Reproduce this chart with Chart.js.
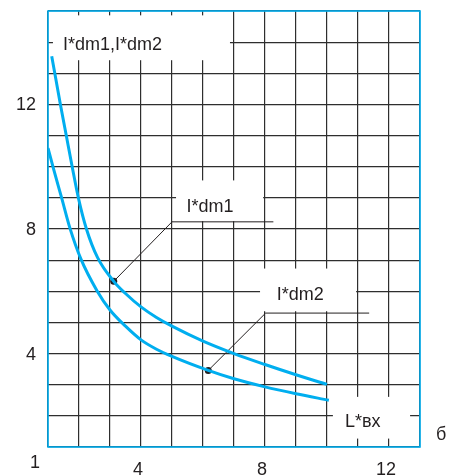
<!DOCTYPE html>
<html>
<head>
<meta charset="utf-8">
<script src="https://cdn.jsdelivr.net/npm/chart.js@4/dist/chart.umd.min.js"></script>
<style>
  html, body { margin: 0; padding: 0; background: #fff; }
  canvas { display: block; }
</style>
</head>
<body>
<canvas id="chart" width="456" height="475"></canvas>
<script>
// I*dm1 curve (upper)
const dm1X = [1.12, 1.40, 1.59, 1.78, 1.98, 2.24, 2.60, 3.12, 3.50, 4.00, 4.50, 5.00, 6.00, 7.00, 8.00, 9.00, 10.00];
const dm1Y = [13.55, 12.0, 11.0, 10.0, 9.0, 8.0, 7.08, 6.32, 5.93, 5.50, 5.16, 4.88, 4.40, 4.00, 3.65, 3.32, 3.01];
// I*dm2 curve (lower)
const dm2X = [1.0, 1.17, 1.44, 1.71, 2.06, 2.58, 3.0, 3.5, 4.0, 4.5, 5.0, 6.17, 7.0, 8.0, 9.0, 10.06];
const dm2Y = [10.6, 9.96, 9.0, 8.02, 7.04, 6.02, 5.40, 4.88, 4.44, 4.14, 3.91, 3.46, 3.19, 2.93, 2.71, 2.5];
// marked points on each curve
const dm1Mark = { x: 3.12, y: 6.32 };
const dm2Mark = { x: 6.17, y: 3.46 };
// axis ranges and labelled ticks
const xRange = [1, 13];
const yRange = [1, 15];
const xTickLabels = [4, 8, 12];
const yTickLabels = [4, 8, 12];
const originLabel = '1';
const yTitle = 'I*dm1,I*dm2';
const xTitle = 'L*вх';
const panelTag = 'б';

const CYAN = '#00aeef';
const INK = '#231f20';
const GRID = '#2e2e2e';
const FONT_FAMILY = '"Liberation Sans", Arial, sans-serif';
const FONT = '18px ' + FONT_FAMILY;

const toPoints = (xs, ys) => xs.map((x, i) => ({ x, y: ys[i] }));

// white label panels cut into the grid (in axis units)
const panels = [
  { x0: 1.16, x1: 6.87, y0: 13.42, y1: 14.86 },
  { x0: 5.13, x1: 7.94, y0: 8.25, y1: 9.56 },
  { x0: 7.84, x1: 10.94, y0: 5.36, y1: 6.73 },
  { x0: 10.19, x1: 12.68, y0: 1.27, y1: 2.61 }
];
// leader lines from marked points to their captions
const leaders = [
  { from: dm1Mark, elbow: { x: 5.0, y: 8.23 }, end: 8.27 },
  { from: dm2Mark, elbow: { x: 8.02, y: 5.30 }, end: 11.36 }
];
// captions: text, anchor (axis units), alignment
const captions = [
  { text: yTitle, x: 1.48, y: 13.74, align: 'left' },
  { text: 'I*dm1', x: 5.47, y: 8.55, align: 'left' },
  { text: 'I*dm2', x: 8.38, y: 5.71, align: 'left' },
  { text: xTitle, x: 10.58, y: 1.64, align: 'left' },
  { text: panelTag, x: 13.68, y: 1.22, align: 'center' },
  { text: originLabel, x: 0.58, y: 0.32, align: 'center' }
];

function toPx(chart, x, y) {
  return [chart.scales.x.getPixelForValue(x), chart.scales.y.getPixelForValue(y)];
}

const overlay = {
  id: 'overlay',
  beforeDatasetsDraw(chart) {
    const ctx = chart.ctx;
    const a = chart.chartArea;
    ctx.save();
    ctx.fillStyle = '#fff';
    for (const p of panels) {
      const [l, t] = toPx(chart, p.x0, p.y1);
      const [r, b] = toPx(chart, p.x1, p.y0);
      ctx.fillRect(l, t, r - l, b - t);
    }
    ctx.strokeStyle = CYAN;
    ctx.lineWidth = 1.6;
    ctx.strokeRect(a.left, a.top, a.right - a.left, a.bottom - a.top);
    ctx.strokeStyle = INK;
    ctx.lineWidth = 1;
    for (const l of leaders) {
      const [x0, y0] = toPx(chart, l.from.x, l.from.y);
      const [x1, y1] = toPx(chart, l.elbow.x, l.elbow.y);
      const [x2] = toPx(chart, l.end, l.elbow.y);
      ctx.beginPath();
      ctx.moveTo(x0, y0);
      ctx.lineTo(x1, y1);
      ctx.lineTo(x2, y1);
      ctx.stroke();
    }
    ctx.restore();
  },
  afterDatasetsDraw(chart) {
    const ctx = chart.ctx;
    ctx.save();
    ctx.font = FONT;
    ctx.fillStyle = INK;
    ctx.textBaseline = 'alphabetic';
    for (const c of captions) {
      const [x, y] = toPx(chart, c.x, c.y);
      ctx.textAlign = c.align;
      ctx.fillText(c.text, x, y);
    }
    ctx.restore();
  }
};

const curveStyle = {
  showLine: true,
  borderColor: CYAN,
  borderWidth: 3,
  pointRadius: 0,
  tension: 0.4,
  cubicInterpolationMode: 'monotone',
  fill: false
};
const markStyle = {
  showLine: false,
  pointRadius: 3.5,
  pointBackgroundColor: INK,
  pointBorderColor: INK,
  pointBorderWidth: 0
};

// keep the plot frame fixed: no extra room for edge tick labels
function noEdgePadding(s) {
  s.paddingTop = 0; s.paddingBottom = 0; s.paddingLeft = 0; s.paddingRight = 0;
}

new Chart(document.getElementById('chart'), {
  type: 'scatter',
  data: {
    datasets: [
      { label: 'I*dm1', data: toPoints(dm1X, dm1Y), ...curveStyle },
      { label: 'I*dm2', data: toPoints(dm2X, dm2Y), ...curveStyle },
      { label: 'I*dm1 mark', data: [dm1Mark], ...markStyle },
      { label: 'I*dm2 mark', data: [dm2Mark], ...markStyle }
    ]
  },
  options: {
    responsive: false,
    animation: false,
    devicePixelRatio: 1,
    layout: { padding: { top: 11, right: 36, left: 0, bottom: 0 } },
    plugins: { legend: { display: false }, tooltip: { enabled: false } },
    scales: {
      x: {
        type: 'linear',
        min: xRange[0], max: xRange[1],
        border: { display: false },
        grid: { color: GRID, lineWidth: 1.2, drawTicks: false },
        ticks: {
          stepSize: 1, autoSkip: false, maxRotation: 0, padding: 12, labelOffset: -3,
          color: INK, font: { family: FONT_FAMILY, size: 18 },
          callback: v => xTickLabels.includes(v) ? String(v) : ''
        },
        afterFit: s => { s.height = 28; noEdgePadding(s); }
      },
      y: {
        type: 'linear',
        min: yRange[0], max: yRange[1],
        border: { display: false },
        grid: { color: GRID, lineWidth: 1.2, drawTicks: false },
        ticks: {
          stepSize: 1, autoSkip: false, padding: 12, labelOffset: 1,
          color: INK, font: { family: FONT_FAMILY, size: 18 },
          callback: v => yTickLabels.includes(v) ? String(v) : ''
        },
        afterFit: s => { s.width = 48; noEdgePadding(s); }
      }
    }
  },
  plugins: [overlay]
});
</script>
</body>
</html>
